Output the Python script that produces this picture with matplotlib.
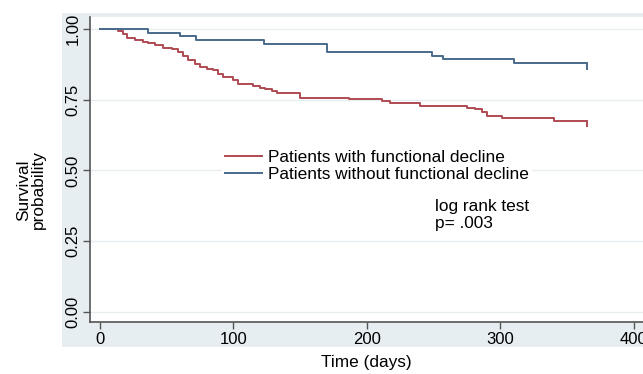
import matplotlib
matplotlib.use("Agg")
import matplotlib.pyplot as plt
from matplotlib.patches import Rectangle

plt.rcParams['font.family'] = ['Liberation Sans', 'DejaVu Sans']

# Kaplan-Meier steps (days, survival after each drop)
decline_days = [0, 13.5, 17, 20, 26, 32, 36, 41, 47, 54, 58.5, 62, 66, 71, 75, 80, 85,
                88.5, 92, 100, 103.5, 115, 120, 124, 129, 133, 150, 187, 211.5, 217,
                240, 275, 281, 286.5, 290, 301, 340, 365]
decline_surv = [1.0, 0.993, 0.981, 0.969, 0.961, 0.954, 0.949, 0.943, 0.933, 0.928, 0.919,
                0.905, 0.890, 0.876, 0.866, 0.860, 0.855, 0.841, 0.830, 0.818, 0.806,
                0.797, 0.792, 0.786, 0.781, 0.774, 0.757, 0.752, 0.746, 0.739, 0.729,
                0.721, 0.716, 0.705, 0.694, 0.684, 0.676, 0.676]

nodecline_days = [0, 36, 60, 72, 123, 170, 249, 257, 310, 365]
nodecline_surv = [1.0, 0.987, 0.974, 0.961, 0.947, 0.919, 0.906, 0.892, 0.879, 0.879]

labels = ['Patients with functional decline', 'Patients without functional decline']
red = '#b04a52'
blue = '#4a6a8c'
panel = '#e6eef1'

fig = plt.figure(figsize=(6.43, 3.74), dpi=100)
# light outer panel like the stata scheme
fig.patches.append(Rectangle((62 / 643, 27 / 374), 1 - 62 / 643, 334 / 374,
                             transform=fig.transFigure, facecolor=panel,
                             edgecolor='none', zorder=-5))

ax = fig.add_axes([90 / 643, 52 / 374, 1 - 90 / 643, 305 / 374])
ax.set_facecolor('white')

l1, = ax.step(decline_days, decline_surv, where='post', color=red, lw=1.4)
l2, = ax.step(nodecline_days, nodecline_surv, where='post', color=blue, lw=1.4)
ax.plot([decline_days[-1]], [decline_surv[-1]], marker=3, ms=4, color=red, mew=1.4)
ax.plot([nodecline_days[-1]], [nodecline_surv[-1]], marker=3, ms=5, color=blue, mew=1.4)

ax.set_xlim(-7.5, 407)
ax.set_ylim(-0.035, 1.042)
ax.set_xticks([0, 100, 200, 300, 400])
ax.set_yticks([0, 0.25, 0.5, 0.75, 1.0])
ax.set_yticklabels(['0.00', '0.25', '0.50', '0.75', '1.00'], rotation=90, va='center')
ax.tick_params(labelsize=12, length=5, color='#555555', width=1, pad=2)
ax.grid(axis='y', color='#e8eef0', lw=1)
ax.set_axisbelow(True)
for s in ['top', 'right']:
    ax.spines[s].set_visible(False)
for s in ['left', 'bottom']:
    ax.spines[s].set_color('#555555')
    ax.spines[s].set_linewidth(1.2)

ax.set_xlabel('Time (days)', fontsize=12.4, labelpad=6)
fig.text(31 / 643, 1 - 190 / 374, 'Survival\nprobability', rotation=90, fontsize=12.4,
         ha='center', va='center', linespacing=1.0)

leg = ax.legend([l1, l2], labels, loc='upper left', bbox_to_anchor=(0.238, 0.575),
                frameon=True, fancybox=False, edgecolor='none', facecolor='white',
                framealpha=1, fontsize=12.4, handlelength=2.15, handletextpad=0.35,
                labelspacing=0.1, borderpad=0.2, borderaxespad=0)

ax.text(251, 0.343, 'log rank test\np= .003', fontsize=12.4, ha='left', va='center',
        linespacing=1.2)

fig.savefig('out.png', dpi=100)
